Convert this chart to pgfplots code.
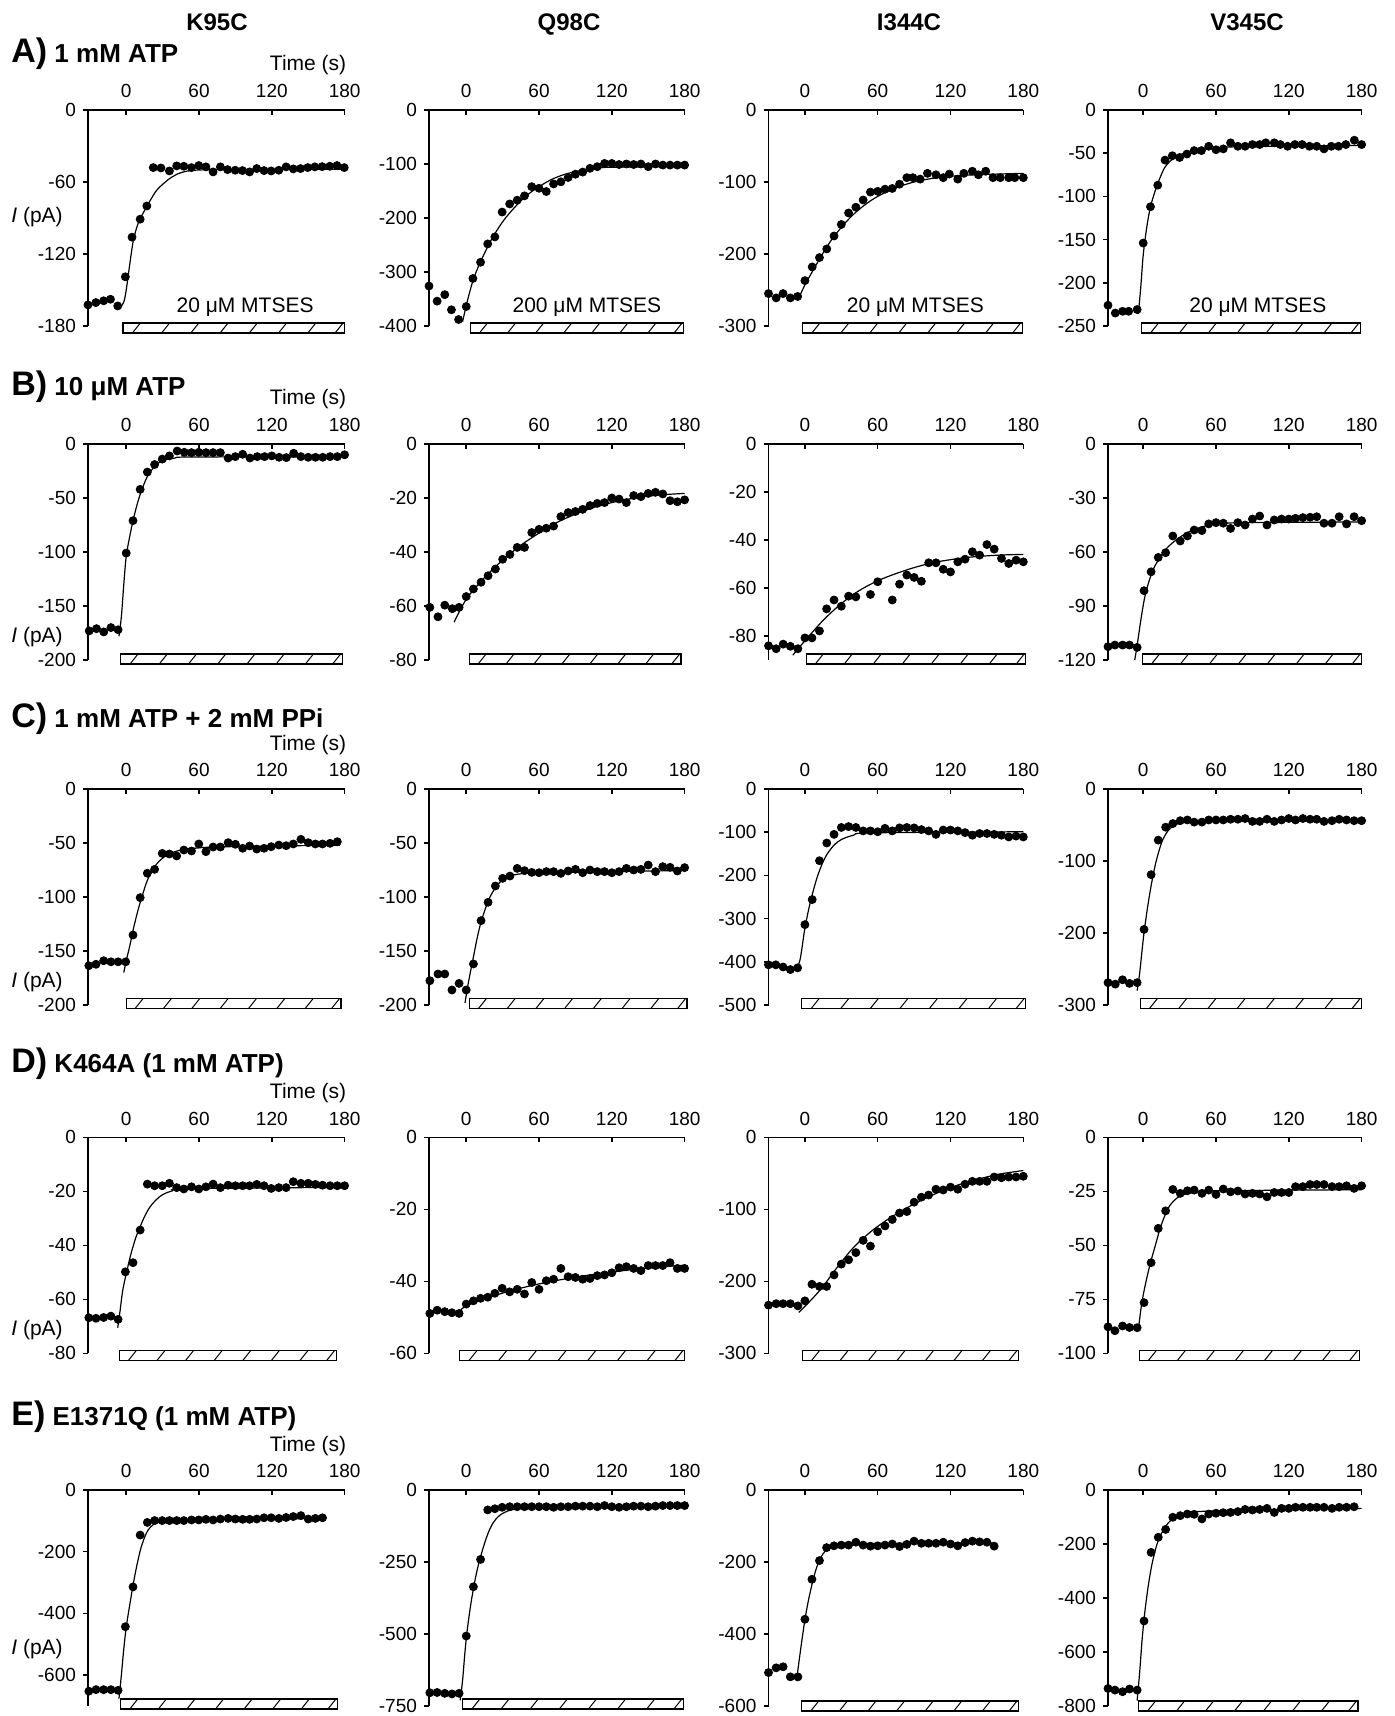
\documentclass[border=0pt]{standalone}
\usepackage{fontspec}
\setmainfont{Liberation Sans}
\usepackage{pgfplots}
\pgfplotsset{compat=1.18}
\usetikzlibrary{calc}

\pgfplotsset{
  panel/.style={
    anchor=north west, scale only axis, height=108pt,
    ymax=0, clip=false,
    axis x line=top, axis y line=left,
    axis line style={-, line width=0.75pt},
    tick style={black, line width=0.75pt},
    tick align=outside, major tick length=2.5pt,
    xtick={0,60,120,180},
    xtick style={yshift=-2.5pt},
    tick label style={font=\fontsize{9.5}{11}\selectfont},
    /pgf/number format/assume math mode=true,
    /pgf/number format/1000 sep={},
  },
  c1/.style={xmin=-31.5, xmax=180, width=128.3pt},
  c2/.style={xmin=-30.7, xmax=180, width=127.8pt},
  c3/.style={xmin=-30, xmax=180, width=127.4pt},
  c4/.style={xmin=-29, xmax=180, width=126.8pt},
  dots/.style={only marks, mark=*, mark size=2pt, black},
  fitl/.style={no markers, smooth, black, line width=0.6pt},
}

% hatched bar for the MTSES application, between coordinates b1 and b2
\newcommand\hatchbar[1][0pt]{%
  \draw[line width=0.6pt, fill=white] ([yshift=#1-2.5pt]b1) rectangle ([yshift=#1+2.5pt]b2);
  \foreach \f in {0.06,0.192,0.324,0.456,0.588,0.72,0.852,0.975}
    \draw[line width=0.5pt] ($(b1)!\f!(b2)+(-2pt,#1-2.5pt)$) -- ($(b1)!\f!(b2)+(2pt,#1+2.5pt)$);
}
\newcommand\timelabel{\node[anchor=base east, inner sep=0pt, font=\fontsize{10.5}{12}\selectfont]
  at ([yshift=19.5pt,xshift=1pt]axis cs:180,0) {Time (s)};}
\newcommand\ipa[1]{\node[anchor=base west, inner sep=0pt, font=\fontsize{10.5}{12}\selectfont]
  at (5.5pt,#1) {\textit{I} (pA)};}
\newcommand\rowlab[3]{\node[anchor=base west, inner sep=0pt, font=\bfseries]
  at (5.5pt,#1) {{\fontsize{17}{20}\selectfont #2}{\fontsize{13}{15}\selectfont\ #3}};}
\newcommand\mtses[2]{\node[anchor=base, inner sep=0pt, font=\fontsize{10.5}{12}\selectfont]
  at ([yshift=6.5pt]axis cs:#1) {#2};}

\begin{document}
\begin{tikzpicture}
\useasboundingbox (0,0) rectangle (697pt,-858pt);

\node[anchor=base, font=\bfseries\fontsize{12}{14}\selectfont] at (108.5pt,-15.3pt) {K95C};
\node[anchor=base, font=\bfseries\fontsize{12}{14}\selectfont] at (284.5pt,-15.3pt) {Q98C};
\node[anchor=base, font=\bfseries\fontsize{12}{14}\selectfont] at (454.5pt,-15.3pt) {I344C};
\node[anchor=base, font=\bfseries\fontsize{12}{14}\selectfont] at (623.5pt,-15.3pt) {V345C};

\rowlab{-31.5pt}{A)}{1 mM ATP}
\rowlab{-198pt}{B)}{10 μM ATP}
\rowlab{-363.5pt}{C)}{1 mM ATP + 2 mM PPi}
\rowlab{-536pt}{D)}{K464A (1 mM ATP)}
\rowlab{-712.5pt}{E)}{E1371Q (1 mM ATP)}

\ipa{-111.5pt}
\ipa{-321pt}
\ipa{-493.5pt}
\ipa{-667.5pt}
\ipa{-827pt}

% ---------------- row A ----------------
\begin{axis}[panel, c1, at={(44pt,-55pt)}, ymin=-180, ytick={0,-60,-120,-180}]
\addplot[fitl] coordinates {(-5,-165) (-2,-160) (0,-150) (3,-128) (6,-108) (10,-94) (15,-84) (20,-75) (25,-67) (30,-62) (36,-57) (43,-53) (50,-51) (60,-50) (90,-49.5) (180,-49.5)};
\addplot[dots] coordinates {(-31.5,-162.4) (-25,-160.5) (-18.6,-159) (-13,-157.7) (-7,-163.3) (-0.7,-139) (4.8,-106) (11.5,-91) (17,-80)
 (22.3,-48) (28.6,-48.3) (35.6,-50.8) (41.6,-46.6) (47.5,-46.9) (53.8,-48) (59.8,-46.3) (65.7,-47.4) (71.6,-51.6) (77.6,-47.4)
 (83.5,-49.7) (89.8,-50.2) (95.8,-50.5) (101.7,-51.6) (107.6,-48.8) (113.6,-50.5) (119.5,-50.8) (125.8,-50.2) (131.8,-47.4)
 (137.7,-49.1) (143.7,-48.8) (149.6,-48) (155.5,-47.4) (161.5,-47.2) (167.8,-46.9) (173.7,-46.3) (179.7,-48)};
\coordinate (b1) at (axis cs:-2.6,-180);
\coordinate (b2) at (axis cs:180,-180);
\timelabel
\mtses{98,-180}{20 μM MTSES}
\end{axis}
\hatchbar[-1pt]

\begin{axis}[panel, c2, at={(214.5pt,-55pt)}, ymin=-400, ytick={0,-100,-200,-300,-400}]
\addplot[fitl] coordinates {(-3,-392) (0,-362) (5,-320) (10,-290) (20,-243) (30,-207) (40,-180) (50,-158) (60,-142) (70,-129) (80,-120) (90,-114) (100,-110) (110,-107.5) (120,-106) (180,-105)};
\addplot[dots] coordinates {(-30.7,-326) (-24,-354) (-17.7,-342) (-12.2,-370) (-6.3,-388) (0,-364) (5.5,-312) (11.8,-282) (17.7,-248)
 (23.6,-235) (29.6,-189) (35.8,-174) (42,-167) (48,-159) (54,-142) (60,-145) (66,-151) (72,-137) (78,-133) (84,-125) (90,-119)
 (96,-115) (102,-108) (108,-105) (114,-99) (120,-99) (126,-101) (132,-100) (138,-101) (144,-100) (150,-105) (156,-100)
 (162,-102) (168,-102) (174,-102) (180,-102)};
\coordinate (b1) at (axis cs:3.7,-400);
\coordinate (b2) at (axis cs:179,-400);
\mtses{99.5,-400}{200 μM MTSES}
\end{axis}
\hatchbar[-1pt]

\begin{axis}[panel, c3, at={(384.25pt,-55pt)}, ymin=-300, ytick={0,-100,-200,-300}]
\addplot[fitl] coordinates {(-6,-265) (0,-243) (10,-213) (20,-185) (30,-163) (40,-145) (50,-131) (60,-120) (75,-108) (90,-100) (105,-95) (120,-92) (140,-90) (180,-88)};
\addplot[dots] coordinates {(-30,-255) (-23.7,-261) (-18,-255) (-12,-261) (-6,-259) (0,-237) (6,-218) (12,-205) (18,-193) (24,-175)
 (30,-159) (36,-143) (42,-135) (48,-125) (54,-114) (60,-113) (66,-110) (72,-109) (78,-103) (84,-94) (89,-94) (95,-96) (101,-88)
 (108,-90) (114,-94) (119,-89) (126,-96) (131,-88) (138,-85) (143,-90) (149,-85) (155,-94) (161,-94) (168,-94) (173,-94) (180,-94)};
\coordinate (b1) at (axis cs:-1.8,-300);
\coordinate (b2) at (axis cs:179,-300);
\mtses{91,-300}{20 μM MTSES}
\end{axis}
\hatchbar[-1pt]

\begin{axis}[panel, c4, at={(554pt,-55pt)}, ymin=-250, ytick={0,-50,-100,-150,-200,-250}]
\addplot[fitl] coordinates {(-4,-236) (-2,-205) (0,-168) (3,-135) (6,-112) (10,-93) (14,-78) (18,-66) (24,-57) (30,-52) (40,-47.5) (55,-44.5) (80,-42.5) (180,-41)};
\addplot[dots] coordinates {(-29,-226) (-23,-235) (-17,-233) (-12,-233) (-5,-231) (0,-154) (6,-112) (12,-87) (18,-58) (24,-53) (30,-55)
 (36,-51) (42,-47) (48,-47) (54,-42) (60,-46) (66,-45) (72,-38) (78,-42) (84,-42) (90,-40) (96,-40) (101,-38) (108,-38) (113,-40)
 (119,-42) (125,-40) (131,-40) (137,-42) (143,-42) (149,-45) (155,-42) (161,-42) (167,-40) (174,-35) (180,-40)};
\coordinate (b1) at (axis cs:-1.5,-250);
\coordinate (b2) at (axis cs:179,-250);
\mtses{94.5,-250}{20 μM MTSES}
\end{axis}
\hatchbar[-1pt]

% ---------------- row B ----------------
\begin{axis}[panel, c1, at={(44pt,-222pt)}, ymin=-200, ytick={0,-50,-100,-150,-200}]
\addplot[fitl] coordinates {(-6,-178) (-4,-160) (-2,-130) (0,-104) (3,-85) (6,-69) (10,-52) (14,-39) (18,-29) (24,-20) (30,-15.5) (40,-13) (55,-12) (180,-12)};
\addplot[dots] coordinates {(-30.5,-173) (-24.5,-171) (-18.5,-174) (-12.6,-170) (-6.7,-172) (0,-101) (5.6,-71) (11.5,-42) (17.4,-26)
 (23.4,-19) (29.7,-14) (35.6,-11) (42,-6.5) (47.9,-7.7) (53.8,-8) (59.8,-7.7) (65.7,-8) (71.6,-8) (77.6,-8) (84,-13) (89.9,-11.7)
 (96,-9.5) (102,-13) (108,-11.7) (114,-11.7) (120,-11) (126,-12.3) (132,-12.6) (138,-8.6) (144,-11.7) (150,-12.3) (156,-12.3)
 (162,-12.3) (168,-11.7) (174,-11.7) (180,-10)};
\coordinate (b1) at (axis cs:-4.5,-200);
\coordinate (b2) at (axis cs:178,-200);
\timelabel
\end{axis}
\hatchbar[0.5pt]

\begin{axis}[panel, c2, at={(214.5pt,-222pt)}, ymin=-80, ytick={0,-20,-40,-60,-80}]
\addplot[fitl] coordinates {(-10,-66) (0,-57.5) (15,-49.5) (30,-43) (45,-37.5) (60,-33) (75,-29) (90,-26) (105,-23.5) (120,-21.7) (135,-20.3) (150,-19.3) (165,-18.7) (180,-18.3)};
\addplot[dots] coordinates {(-30,-60.5) (-23.3,-64) (-17.7,-59.7) (-11.5,-61) (-5.9,-60.5) (0,-56.5) (5.9,-53.7) (12.2,-51.2) (18,-48.8)
 (24,-46.3) (30,-42.7) (36,-40.9) (42,-38.3) (48,-38.3) (54,-32.8) (60,-31.6) (66,-31.2) (72,-30.4) (78,-26.9) (84,-25.4) (90,-25)
 (96,-24.2) (102,-22.8) (108,-22) (114,-21.7) (120,-20) (126,-20.4) (132,-21.7) (138,-19.1) (144,-19.5) (150,-18.3) (156,-17.9)
 (162,-18.5) (168,-21) (174,-21.4) (180,-20.7)};
\coordinate (b1) at (axis cs:2.6,-80);
\coordinate (b2) at (axis cs:177,-80);
\end{axis}
\hatchbar[0.5pt]

\begin{axis}[panel, c3, at={(384.25pt,-222pt)}, ymin=-90, ytick={0,-20,-40,-60,-80}]
\addplot[fitl] coordinates {(-10,-88) (0,-82) (15,-73.5) (30,-66.5) (45,-61) (60,-57) (75,-54) (90,-51.5) (105,-49.5) (120,-48.2) (135,-47.2) (150,-46.6) (165,-46.2) (180,-46)};
\addplot[dots] coordinates {(-30,-84.1) (-23.7,-85.3) (-17.9,-83.4) (-12,-84.3) (-5.8,-85.3) (0,-80.8) (5.8,-80.8) (12,-77.9) (17.9,-68.7)
 (24,-65) (30,-67.6) (36,-63.4) (42,-63.7) (54,-62.7) (60,-57.4) (72,-65) (78,-58.4) (84,-54.6) (90,-55.6) (96,-57.2) (102,-49.5)
 (108,-49.5) (114,-52.2) (120,-53.3) (126,-49.1) (132,-48) (138,-44.9) (144,-46.3) (150,-41.9) (156,-43.8) (162,-47.7) (168,-49.8)
 (174,-48.4) (180,-49.1)};
\coordinate (b1) at (axis cs:1,-90);
\coordinate (b2) at (axis cs:182,-90);
\end{axis}
\hatchbar[0.5pt]

\begin{axis}[panel, c4, at={(554pt,-222pt)}, ymin=-120, ytick={0,-30,-60,-90,-120}]
\addplot[fitl] coordinates {(-7,-120) (-5,-112) (-2,-98) (1,-86) (4,-78) (8,-70) (12,-65) (18,-59) (24,-55) (32,-51) (42,-47.5) (55,-45) (75,-43.8) (180,-43.3)};
\addplot[dots] coordinates {(-29,-112.6) (-23.3,-111.7) (-17,-111.7) (-11.3,-111.7) (-5,-113) (0.7,-81.5) (6.5,-71) (12.4,-63) (18.5,-60.4)
 (24.4,-51.1) (30.5,-53.9) (36.4,-51.1) (42,-47.8) (48.4,-48.1) (54,-44.4) (60,-43.7) (66,-44) (72,-46.9) (78,-43.7) (84,-45)
 (90,-41.7) (96,-40) (102,-45) (108,-42.2) (114,-41.7) (120,-41.7) (125.5,-41.3) (131.6,-40.9) (137.5,-40.7) (143,-40.4) (149,-44)
 (155.6,-44) (161.5,-40.4) (167.6,-44.4) (173.8,-40.4) (180,-42.6)};
\coordinate (b1) at (axis cs:-0.7,-120);
\coordinate (b2) at (axis cs:180,-120);
\end{axis}
\hatchbar[0.5pt]

% ---------------- row C ----------------
\begin{axis}[panel, c1, at={(44pt,-394.5pt)}, ymin=-200, ytick={0,-50,-100,-150,-200}]
\addplot[fitl] coordinates {(-2,-170) (0,-159) (3,-145) (6,-129) (10,-111) (14,-96) (18,-83) (24,-71) (30,-64) (40,-58) (55,-55) (80,-53.5) (176,-52)};
\addplot[dots] coordinates {(-30.8,-163.6) (-24.9,-162.3) (-18.6,-159) (-12.6,-160) (-6.7,-160) (-0.4,-160) (5.6,-135.2) (11.5,-100.6)
 (17.4,-78) (23.4,-74.4) (29.7,-59.6) (35.6,-60.2) (41.6,-62) (47.5,-56.5) (53.8,-57.4) (59.8,-50.9) (65.7,-58) (71.6,-53.7)
 (77.6,-53.7) (84,-49.7) (90,-51.2) (96,-54.9) (101.7,-52.8) (107.6,-55.6) (113.6,-54.9) (119.5,-53.4) (125.8,-51.9) (131.8,-52.5)
 (137.7,-50.9) (144,-46.6) (150,-49.7) (155.9,-50.9) (161.8,-50.9) (168,-50.3) (174,-48.8)};
\coordinate (b1) at (axis cs:0,-200);
\coordinate (b2) at (axis cs:177,-200);
\timelabel
\end{axis}
\hatchbar[0.75pt]

\begin{axis}[panel, c2, at={(214.5pt,-394.5pt)}, ymin=-200, ytick={0,-50,-100,-150,-200}]
\addplot[fitl] coordinates {(-1,-198) (1,-184) (3,-172) (6,-155) (9,-138) (12,-124) (16,-110) (20,-99) (25,-90) (30,-84) (36,-80.5) (45,-78.5) (60,-77.5) (180,-75.5)};
\addplot[dots] coordinates {(-30,-177.5) (-23.3,-171.3) (-17.7,-171.3) (-11.8,-186.1) (-5.9,-180) (0,-186.1) (5.9,-162) (12.2,-121.9)
 (18,-104.9) (24,-89.8) (30,-82.7) (36,-80.6) (42,-73.5) (48,-75.6) (54,-77.2) (60,-77.5) (66,-76.5) (72,-76.5) (78,-78.1) (84,-75.9)
 (90,-74.4) (96,-77.5) (102,-75) (108,-76.5) (114,-76.5) (120,-77.5) (126,-76.5) (132,-73.5) (138,-75) (144,-74.4) (150,-70.4)
 (156,-76.5) (162,-71.9) (168,-72.5) (174,-75.9) (180,-72.8)};
\coordinate (b1) at (axis cs:2.6,-200);
\coordinate (b2) at (axis cs:182,-200);
\end{axis}
\hatchbar[0.75pt]

\begin{axis}[panel, c3, at={(384.25pt,-394.5pt)}, ymin=-500, ytick={0,-100,-200,-300,-400,-500}]
\addplot[fitl] coordinates {(-7,-420) (-4,-395) (-2,-360) (0,-322) (3,-280) (6,-245) (10,-205) (14,-175) (18,-152) (24,-130) (30,-117) (40,-107) (55,-101.5) (180,-99)};
\addplot[dots] coordinates {(-30,-407) (-24,-407) (-18,-412) (-12,-418) (-6,-414) (0,-314) (6,-256) (12,-166) (18,-125) (24,-105) (30,-89)
 (36,-87) (42,-89) (48,-97) (54,-97) (60,-99) (66,-91) (72,-97) (78,-90) (84,-89) (90,-90) (96,-94) (102,-97) (108,-105) (114,-95)
 (120,-95) (126,-97) (132,-101) (138,-107) (144,-103) (150,-103) (156,-105) (162,-107) (168,-111) (174,-109) (180,-111)};
\coordinate (b1) at (axis cs:-2.6,-500);
\coordinate (b2) at (axis cs:182,-500);
\end{axis}
\hatchbar[0.75pt]

\begin{axis}[panel, c4, at={(554pt,-394.5pt)}, ymin=-300, ytick={0,-100,-200,-300}]
\addplot[fitl] coordinates {(-5,-280) (-3,-257) (-1,-225) (1,-195) (4,-160) (7,-130) (10,-105) (13,-86) (16,-71) (20,-59) (25,-51) (32,-47) (45,-45) (180,-44.5)};
\addplot[dots] coordinates {(-29,-269) (-23,-271) (-17,-265) (-11.3,-270) (-5,-269) (0.7,-195) (6.5,-119) (12.4,-71) (18.5,-53) (24.4,-48)
 (30.5,-44) (36.4,-43) (42,-46) (48.4,-46) (54,-43) (60,-43) (66,-43) (72,-42) (78,-42) (84,-41) (90,-45) (96,-45) (102,-42) (108,-45)
 (114,-43) (120,-41) (125.5,-43) (131.6,-41) (137.5,-42) (143,-42) (149,-45) (155.6,-44) (161.5,-42) (167.6,-43) (173.8,-44) (180,-44)};
\coordinate (b1) at (axis cs:-2.5,-300);
\coordinate (b2) at (axis cs:180,-300);
\end{axis}
\hatchbar[0.75pt]

% ---------------- row D ----------------
\begin{axis}[panel, c1, at={(44pt,-568.7pt)}, ymin=-80, ytick={0,-20,-40,-60,-80}]
\addplot[fitl] coordinates {(-7,-70.5) (-5,-64) (-3,-57) (0,-50.5) (4,-43) (8,-37) (12,-32.5) (16,-28.5) (20,-25.5) (25,-23) (30,-21.2) (38,-19.8) (50,-19) (180,-18.5)};
\addplot[dots] coordinates {(-30.8,-66.8) (-24.9,-67) (-18.6,-66.7) (-12.6,-66.2) (-6.7,-67.4) (-0.7,-49.8) (5.6,-46.4) (11.5,-34.3)
 (17.4,-17.3) (23.4,-17.9) (29.7,-17.9) (35.6,-17) (41.6,-18.6) (47.5,-19.1) (53.8,-18.3) (59.8,-19.1) (65.7,-18.3) (71.6,-17.3)
 (77.6,-18.6) (84,-17.7) (90,-17.9) (96,-17.9) (101.7,-17.9) (107.6,-17.4) (113.6,-17.9) (119.5,-18.9) (125.8,-18.6) (131.8,-18.6)
 (137.7,-16.4) (144,-17) (150,-17) (155.9,-17.4) (161.8,-17.7) (168,-17.9) (174,-17.9) (180,-17.9)};
\coordinate (b1) at (axis cs:-5.6,-80);
\coordinate (b2) at (axis cs:173,-80);
\timelabel
\end{axis}
\hatchbar[-1pt]

\begin{axis}[panel, c2, at={(214.5pt,-568.7pt)}, ymin=-60, ytick={0,-20,-40,-60}]
\addplot[fitl] coordinates {(-5,-48.2) (0,-46.8) (20,-44.3) (40,-42.3) (60,-40.7) (80,-39.4) (100,-38.3) (120,-37.4) (140,-36.6) (160,-36) (180,-35.5)};
\addplot[dots] coordinates {(-30,-48.9) (-24,-48) (-17.7,-48.4) (-11.8,-48.7) (-5.9,-48.9) (0,-46.3) (5.9,-45.4) (11.8,-44.7) (17.7,-44.4)
 (23.6,-43.3) (29.6,-41.9) (35.8,-42.9) (42,-42.2) (48,-43.5) (54,-40.3) (60,-42.2) (66,-39.8) (72,-39.4) (78,-36.4) (84,-38.7)
 (90,-38.9) (96,-39.4) (102,-39.2) (108,-38.4) (114,-38.2) (120,-37.6) (126,-36.2) (132,-35.9) (138,-36.4) (144,-37) (150,-35.6)
 (156,-35.6) (162,-35.6) (168,-34.8) (174,-36.4) (180,-36.4)};
\coordinate (b1) at (axis cs:-5.5,-60);
\coordinate (b2) at (axis cs:180,-60);
\end{axis}
\hatchbar[-1pt]

\begin{axis}[panel, c3, at={(384.25pt,-568.7pt)}, ymin=-300, ytick={0,-100,-200,-300}]
\addplot[fitl] coordinates {(-5,-243) (5,-226) (15,-207) (25,-184) (40,-153) (55,-130) (70,-112) (85,-97) (100,-84) (115,-73) (130,-64) (145,-57) (160,-51) (180,-46)};
\addplot[dots] coordinates {(-30,-233) (-23.7,-231) (-18,-231) (-12,-231) (-5.8,-234) (0,-227) (5.8,-204) (12,-207) (17.9,-207) (24,-191)
 (30,-176) (36,-170) (42,-160) (48,-143) (54,-151) (60,-131) (66,-123) (72,-114) (78,-105) (84,-103) (90,-90) (96,-83) (102,-80)
 (108,-72) (114,-73) (120,-69) (126,-72) (132,-65) (138,-61) (144,-61) (150,-61) (156,-55) (162,-56) (168,-55) (174,-55) (180,-54)};
\coordinate (b1) at (axis cs:-1.8,-300);
\coordinate (b2) at (axis cs:176,-300);
\end{axis}
\hatchbar[-1pt]

\begin{axis}[panel, c4, at={(554pt,-568.7pt)}, ymin=-100, ytick={0,-25,-50,-75,-100}]
\addplot[fitl] coordinates {(-4,-89) (-2,-80) (0,-73) (3,-65) (6,-58) (10,-50) (14,-42) (18,-36) (22,-31.5) (28,-28) (35,-26.2) (45,-25.2) (60,-24.7) (180,-24.2)};
\addplot[dots] coordinates {(-29,-87.7) (-23.3,-89.5) (-17,-87.3) (-11.3,-88) (-5,-88.1) (0.7,-76.5) (6.5,-58) (12.4,-42.1) (18.5,-34)
 (24.4,-24.1) (30.5,-25.9) (36.4,-24.7) (42,-24.4) (48.4,-25.9) (54,-24.4) (60,-26.4) (66,-23.9) (72,-25.2) (78,-24.8) (84,-26.2)
 (90,-25.9) (96,-26.2) (102,-27.5) (108,-25.5) (114,-25.5) (120,-25.5) (125.5,-22.8) (131.6,-22.8) (137.5,-21.8) (143,-21.8)
 (149,-21.8) (155.6,-22.8) (161.5,-22.8) (167.6,-22.4) (173.8,-23.6) (180,-22.4)};
\coordinate (b1) at (axis cs:-3.3,-100);
\coordinate (b2) at (axis cs:178,-100);
\end{axis}
\hatchbar[-1pt]

% ---------------- row E ----------------
\begin{axis}[panel, c1, at={(44pt,-745pt)}, ymin=-700, ytick={0,-200,-400,-600}]
\addplot[fitl] coordinates {(-6,-676) (-4,-600) (-2,-515) (0,-445) (3,-370) (6,-300) (9,-240) (12,-190) (15,-155) (18,-130) (22,-113) (28,-103) (40,-98) (162,-92)};
\addplot[dots] coordinates {(-30.8,-652) (-24.9,-647) (-18.6,-647) (-12.6,-647) (-6.7,-649) (-0.7,-443) (5.6,-314) (11.5,-146) (17.4,-105)
 (23.4,-99) (29.7,-99) (35.6,-99) (41.6,-99) (47.5,-99) (53.8,-97) (59.8,-97) (65.7,-95) (71.6,-97) (77.6,-94) (84,-92) (90,-94)
 (96,-95) (101.7,-95) (107.6,-94) (113.6,-90) (119.5,-90) (125.8,-92) (131.8,-89) (137.7,-86) (144,-83) (150,-94) (155.9,-92) (161.8,-90)};
\coordinate (b1) at (axis cs:-4.5,-700);
\coordinate (b2) at (axis cs:174,-700);
\timelabel
\end{axis}
\hatchbar[1pt]

\begin{axis}[panel, c2, at={(214.5pt,-745pt)}, ymin=-750, ytick={0,-250,-500,-750}]
\addplot[fitl] coordinates {(-5,-730) (-3,-660) (-1,-560) (1,-480) (4,-390) (7,-318) (10,-260) (14,-200) (18,-150) (22,-115) (27,-90) (34,-73) (45,-63) (60,-59) (180,-56)};
\addplot[dots] coordinates {(-30,-704) (-24,-703) (-17.7,-706) (-11.8,-708) (-5.9,-706) (0,-507) (5.9,-336) (11.8,-241) (17.7,-69) (23.6,-65)
 (29.6,-60) (35.8,-58) (42,-58) (48,-58) (54,-58) (60,-58) (66,-58) (72,-60) (78,-58) (84,-58) (90,-56) (96,-56) (102,-56) (108,-58)
 (114,-54) (120,-58) (126,-60) (132,-58) (138,-56) (144,-56) (150,-58) (156,-56) (162,-54) (168,-54) (174,-54) (180,-54)};
\coordinate (b1) at (axis cs:-3,-750);
\coordinate (b2) at (axis cs:179,-750);
\end{axis}
\hatchbar[1pt]

\begin{axis}[panel, c3, at={(384.25pt,-745pt)}, ymin=-600, ytick={0,-200,-400,-600}]
\addplot[fitl] coordinates {(-7,-530) (-5,-480) (-3,-430) (0,-360) (3,-305) (6,-260) (9,-222) (12,-195) (15,-177) (19,-162) (25,-153) (35,-149) (155,-147)};
\addplot[dots] coordinates {(-30,-507) (-23.7,-494) (-18,-491) (-12,-519) (-5.8,-519) (0,-359) (5.8,-248) (12,-196) (17.9,-160) (24,-155)
 (30,-153) (36,-153) (42,-145) (48,-153) (54,-156) (60,-155) (66,-153) (72,-150) (78,-157) (84,-151) (90,-142) (96,-148) (102,-148)
 (108,-148) (114,-145) (120,-150) (126,-155) (132,-146) (138,-142) (144,-144) (150,-145) (156,-156)};
\coordinate (b1) at (axis cs:-2.6,-600);
\coordinate (b2) at (axis cs:176,-600);
\end{axis}
\hatchbar[0pt]

\begin{axis}[panel, c4, at={(554pt,-745pt)}, ymin=-800, ytick={0,-200,-400,-600,-800}]
\addplot[fitl] coordinates {(-5,-780) (-3,-680) (-1,-560) (1,-465) (4,-360) (7,-280) (10,-222) (13,-180) (17,-145) (21,-120) (26,-101) (32,-89) (40,-82) (55,-78) (100,-74) (180,-68)};
\addplot[dots] coordinates {(-29,-735) (-23.3,-741) (-17,-747) (-11.3,-737) (-5,-741) (0.7,-485) (6.5,-231) (12.4,-175) (18.5,-146)
 (24.4,-101) (30.5,-95) (36.4,-89) (42,-90) (48.4,-107) (54,-89) (60,-86) (66,-84) (72,-83) (78,-80) (84,-72) (90,-74) (96,-72)
 (102,-68) (108,-83) (114,-68) (120,-68) (125.5,-64) (131.6,-64) (137.5,-64) (143,-64) (149,-64) (155.6,-68) (161.5,-64)
 (167.6,-64) (173.8,-62)};
\coordinate (b1) at (axis cs:-4,-800);
\coordinate (b2) at (axis cs:177,-800);
\end{axis}
\hatchbar[0pt]

\end{tikzpicture}
\end{document}
